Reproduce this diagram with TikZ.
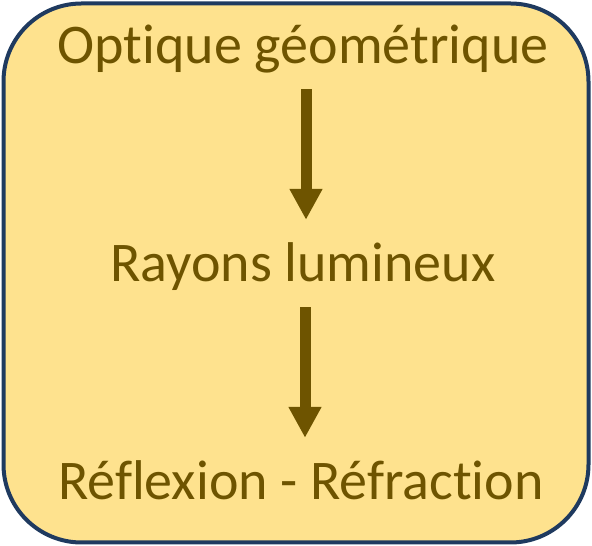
\documentclass[tikz,border=0pt]{standalone}
\usepackage{fontspec}
\setmainfont{Carlito}[RawFeature=-liga]
\usepackage{tikz}
\usetikzlibrary{arrows.meta}
\definecolor{boxfill}{RGB}{254,226,142}
\definecolor{boxline}{RGB}{31,58,95}
\definecolor{olivetext}{RGB}{110,84,0}
\tikzset{
  topicbox/.style={draw=boxline, fill=boxfill, line width=4pt, rounded corners=78pt},
  topic/.style={inner sep=0pt, anchor=base, text=olivetext,
    font=\fontsize{56}{62}\selectfont, text height=40pt, text depth=14pt},
  flow/.style={draw=olivetext, line width=11pt,
    -{Triangle[width=31pt, length=31pt]}, shorten <=11pt, shorten >=22pt},
}

\begin{document}
\begin{tikzpicture}[x=1pt, y=1pt]
\useasboundingbox (0,0) rectangle (592,546);
% frame
\path[topicbox] (3.5,3.5) rectangle (588.5,542.5);
% topics
\node[topic] (optique)   at (303,482) {Optique géométrique};
\node[topic] (rayons)    at (303,264) {Rayons lumineux};
\node[topic] (reflexion) at (301,46)  {Réflexion - Réfraction};
% arrows
\draw[flow] ([xshift=3pt]optique.south) -- ([xshift=3pt]rayons.north);
\draw[flow] ([xshift=2pt]rayons.south) -- ([xshift=4pt]reflexion.north);
\end{tikzpicture}
\end{document}
